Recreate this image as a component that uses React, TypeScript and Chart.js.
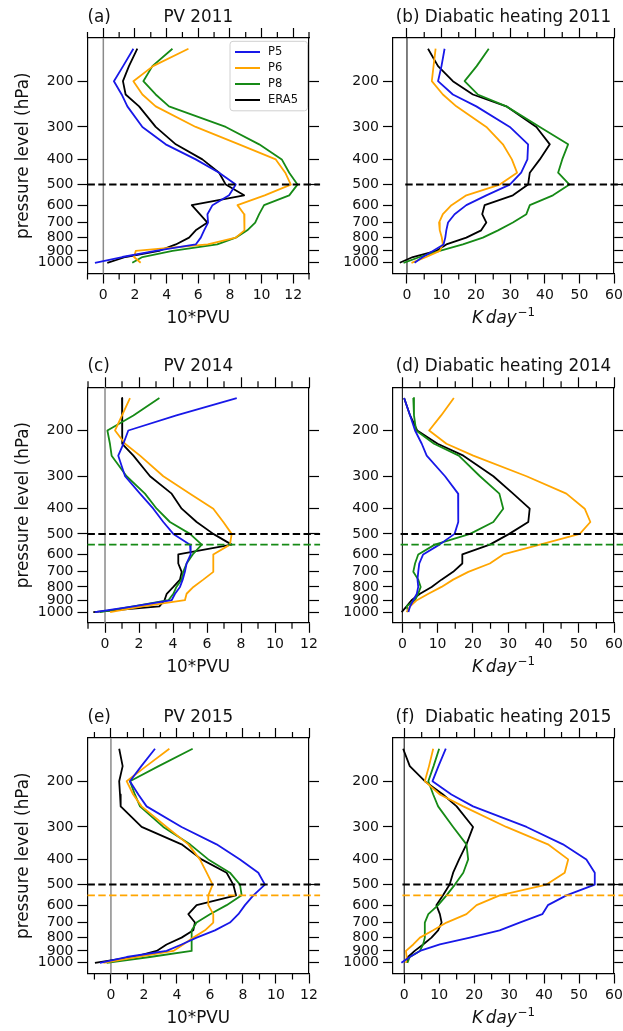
import React, { useEffect, useRef } from 'react';
import { Chart, registerables } from 'chart.js';

Chart.register(...registerables);
Chart.defaults.font.family = '"DejaVu Sans", sans-serif';

// ---------------- data ----------------
const LEVELS = [150, 175, 200, 225, 250, 300, 350, 400, 450, 500, 550, 600, 650, 700, 750, 800, 850, 900, 950, 1000];
const Y_TICKS = [200, 300, 400, 500, 600, 700, 800, 900, 1000];
const PV_TICKS = [0, 2, 4, 6, 8, 10, 12];
const PV_MINOR = [-1, 1, 3, 5, 7, 9, 11, 13];
const DH_TICKS = [0, 10, 20, 30, 40, 50, 60];
const DH_MINOR = [5, 15, 25, 35, 45, 55];
const SERIES_NAMES = ['P5', 'P6', 'P8', 'ERA5'];
const SERIES_COLORS = ['#1818e8', '#ffa500', '#168a16', '#000000'];
const HLINE_MAIN = 500;
const HLINE_SECOND = 550;

const PV2011_P5 = [1.9, 1.25, 0.67, 1.16, 1.52, 2.47, 3.94, 5.84, 7.32, 8.37, 7.95, 6.9, 6.58, 6.62, 6.37, 6.16, 5.84, 3.3, 1.2, -0.53];
const PV2011_P6 = [5.38, 3.14, 1.9, 2.47, 3.31, 5.84, 8.58, 10.9, 11.5, 11.85, 10.2, 8.48, 8.9, 8.94, 8.9, 8.37, 6.6, 2.05, 1.94, 2.36];
const PV2011_P8 = [4.37, 3.1, 2.53, 3.31, 4.15, 7.74, 9.85, 11.28, 11.75, 12.27, 11.75, 10.16, 9.85, 9.6, 9.1, 8.37, 7.2, 4.37, 2.47, 1.83];
const PV2011_ERA5 = [2.15, 1.62, 1.24, 1.41, 2.26, 3.31, 4.58, 6.26, 7.32, 7.74, 8.9, 5.59, 6.1, 6.58, 5.84, 5.42, 4.58, 3.52, 1.4, 0.25];

const DH2011_P5 = [10.9, 10.0, 9.0, 13.3, 20.1, 29.8, 35.1, 34.9, 33.1, 29.8, 23.0, 17.2, 13.8, 11.9, 11.4, 11.1, 10.6, 7.5, 4.6, 2.2];
const DH2011_P6 = [8.3, 7.7, 7.2, 10.4, 14.3, 23.0, 27.8, 30.4, 31.9, 26.9, 17.2, 12.9, 10.4, 9.3, 9.5, 10.1, 10.4, 9.5, 5.6, 1.3];
const DH2011_P8 = [23.7, 20.2, 16.7, 20.5, 28.8, 38.5, 46.7, 45.0, 43.8, 47.1, 42.3, 35.6, 34.6, 30.7, 26.4, 22.0, 16.2, 9.5, 3.7, -1.0];
const DH2011_ERA5 = [6.1, 9.0, 13.3, 19.1, 28.8, 37.5, 41.4, 38.5, 35.6, 35.1, 30.7, 22.5, 21.8, 23.0, 21.5, 17.2, 11.4, 8.5, 1.7, -2.1];

const PV2014_P5 = [7.75, 4.2, 1.37, 1.08, 0.78, 1.18, 2.06, 2.84, 3.43, 4.02, 5.0, 5.04, 4.8, 4.7, 4.57, 4.41, 4.12, 3.92, 1.67, -0.6];
const PV2014_P6 = [1.47, 1.0, 0.59, 1.18, 2.06, 3.43, 5.0, 6.37, 6.96, 7.45, 7.35, 6.37, 6.37, 6.37, 5.78, 5.2, 4.8, 4.7, 2.2, 0.3];
const PV2014_P8 = [3.2, 1.67, 0.14, 0.29, 0.39, 1.27, 2.35, 3.04, 3.82, 5.0, 5.69, 5.16, 4.8, 4.6, 4.5, 4.2, 4.02, 3.73, 1.67, -0.3];
const PV2014_ERA5 = [1.0, 1.0, 1.0, 1.04, 1.67, 2.65, 3.92, 4.51, 5.39, 6.37, 7.45, 4.31, 4.31, 4.51, 4.41, 4.02, 3.63, 3.5, 3.2, -0.69];

const DH2014_P5 = [0.5, 2.2, 3.6, 5.5, 6.9, 12.1, 15.8, 15.9, 15.8, 14.8, 10.5, 5.9, 4.8, 4.5, 4.3, 4.5, 4.1, 3.1, 2.2, 1.7];
const DH2014_P6 = [14.6, 11.0, 7.6, 12.5, 20.1, 35.2, 46.5, 51.7, 53.3, 50.3, 39.0, 28.6, 24.8, 18.7, 14.4, 11.1, 7.4, 4.1, 2.2, 1.2];
const DH2014_P8 = [3.1, 3.3, 3.9, 9.0, 16.0, 22.0, 27.5, 28.6, 25.8, 19.2, 9.2, 4.5, 3.6, 3.1, 4.5, 5.2, 4.5, 3.6, 1.2, 1.7];
const DH2014_ERA5 = [0.5, 2.2, 4.2, 10.0, 17.3, 25.8, 31.4, 36.1, 35.7, 30.3, 24.8, 17.0, 17.0, 14.4, 11.1, 8.3, 5.0, 2.6, 1.2, -0.2];

const PV2015_P5 = [2.67, 1.84, 1.15, 1.66, 2.16, 4.28, 6.4, 7.82, 8.93, 9.33, 8.63, 8.12, 7.72, 7.21, 6.3, 5.19, 4.28, 3.37, 0.95, -0.67];
const PV2015_P6 = [3.54, 2.14, 0.95, 1.35, 1.86, 3.37, 4.69, 5.39, 5.8, 6.16, 5.9, 5.9, 6.2, 6.2, 5.7, 4.99, 4.38, 3.78, 1.56, -0.46];
const PV2015_P8 = [4.95, 2.89, 1.15, 1.45, 1.76, 3.17, 4.79, 5.9, 7.21, 7.82, 7.92, 7.01, 6.0, 5.19, 4.89, 4.89, 4.89, 4.89, 2.36, -0.26];
const PV2015_ERA5 = [0.5, 0.71, 0.5, 0.55, 0.59, 1.86, 4.28, 5.49, 7.01, 7.41, 7.58, 5.19, 4.69, 5.09, 4.99, 4.28, 3.37, 2.77, 1.35, -0.97];

const DH2015_P5 = [11.9, 9.8, 8.1, 13.5, 19.7, 35.0, 45.4, 52.1, 54.5, 54.5, 46.4, 41.1, 39.5, 33.0, 27.3, 18.8, 10.2, 4.5, 1.6, -0.8];
const DH2015_P6 = [8.3, 7.1, 5.9, 10.2, 16.9, 29.2, 41.1, 46.9, 45.9, 40.7, 27.3, 20.7, 17.8, 12.1, 8.3, 4.5, 2.6, 0.5, 0.7, 0.5];
const DH2015_P8 = [10.0, 8.4, 6.9, 8.3, 9.7, 14.0, 17.8, 18.3, 16.9, 14.5, 12.1, 9.7, 6.9, 5.9, 5.9, 5.9, 5.4, 4.5, 1.6, 0.9];
const DH2015_ERA5 = [-0.3, 1.6, 5.9, 11.1, 15.0, 19.7, 17.8, 15.7, 14.0, 13.0, 11.1, 9.2, 10.2, 10.7, 9.7, 7.8, 5.4, 3.0, 1.1, 0.7];

// ---------------- layout ----------------
const Y_MIN = 136.4;
const Y_MAX = 1099.5;
const COLS = [
  { cx: 0, cw: 330, L: 87.5, R: 309 },
  { cx: 330, cw: 293, L: 393, R: 614 },
];
const ROWS = [
  { cy: 0, ch: 340, T: 38, B: 273.5 },
  { cy: 340, ch: 345, T: 387.3, B: 622.8 },
  { cy: 685, ch: 346, T: 738, B: 973.5 },
];
const TEXT = '#111111';
const TITLE_FONT = '16.8px "DejaVu Sans"';

type HL = { value: number; color: string; width: number; start: number | null };

const PANELS = [
  { row: 0, col: 0, kind: 'pv', letter: '(a)', title: 'PV 2011', xmin: -1, xmax: 13, legend: true,
    series: [PV2011_P5, PV2011_P6, PV2011_P8, PV2011_ERA5], second: null },
  { row: 0, col: 1, kind: 'dh', letter: '', title: '(b) Diabatic heating 2011', xmin: -4.05, xmax: 60, legend: false,
    series: [DH2011_P5, DH2011_P6, DH2011_P8, DH2011_ERA5], second: null },
  { row: 1, col: 0, kind: 'pv', letter: '(c)', title: 'PV 2014', xmin: -1.03, xmax: 12, legend: false,
    series: [PV2014_P5, PV2014_P6, PV2014_P8, PV2014_ERA5], second: SERIES_COLORS[2] },
  { row: 1, col: 1, kind: 'dh', letter: '', title: '(d) Diabatic heating 2014', xmin: -2.65, xmax: 60, legend: false,
    series: [DH2014_P5, DH2014_P6, DH2014_P8, DH2014_ERA5], second: SERIES_COLORS[2] },
  { row: 2, col: 0, kind: 'pv', letter: '(e)', title: 'PV 2015', xmin: -1.42, xmax: 12, legend: false,
    series: [PV2015_P5, PV2015_P6, PV2015_P8, PV2015_ERA5], second: SERIES_COLORS[1] },
  { row: 2, col: 1, kind: 'dh', letter: '', title: '(f)  Diabatic heating 2015', xmin: -3.2, xmax: 60, legend: false,
    series: [DH2015_P5, DH2015_P6, DH2015_P8, DH2015_ERA5], second: SERIES_COLORS[1] },
];

const decorPlugin = {
  id: 'decor',
  beforeDatasetsDraw(chart: any, _a: any, o: any) {
    const { ctx, chartArea: a, scales } = chart;
    const x0 = scales.x.getPixelForValue(0);
    ctx.save();
    ctx.strokeStyle = o.zeroColor;
    ctx.lineWidth = o.zeroWidth;
    ctx.beginPath();
    ctx.moveTo(x0, a.top);
    ctx.lineTo(x0, a.bottom);
    ctx.stroke();
    ctx.restore();
  },
  afterDatasetsDraw(chart: any, _a: any, o: any) {
    const { ctx, chartArea: a, scales } = chart;
    ctx.save();
    const hl: HL[] = o.hlines;
    for (let i = hl.length - 1; i >= 0; i--) {
      const h = hl[i];
      const y = scales.y.getPixelForValue(h.value);
      const xs = h.start === null ? a.left : scales.x.getPixelForValue(h.start);
      const xe = a.left + 1.05 * (a.right - a.left);
      ctx.strokeStyle = h.color;
      ctx.lineWidth = h.width;
      ctx.setLineDash([7.4, 3.4]);
      ctx.beginPath();
      ctx.moveTo(xs, y);
      ctx.lineTo(xe, y);
      ctx.stroke();
    }
    ctx.restore();
  },
  afterDraw(chart: any, _a: any, o: any) {
    const { ctx, chartArea: a, scales } = chart;
    const xs = scales.x;
    ctx.save();
    // minor ticks
    ctx.strokeStyle = '#000';
    ctx.lineWidth = 1.2;
    for (const v of o.minor as number[]) {
      if (v < xs.min - 1e-9 || v > xs.max + 1e-9) continue;
      const px = xs.getPixelForValue(v);
      ctx.beginPath();
      ctx.moveTo(px, a.bottom);
      ctx.lineTo(px, a.bottom + 6);
      ctx.moveTo(px, a.top);
      ctx.lineTo(px, a.top - 6);
      ctx.stroke();
    }
    const cxm = (a.left + a.right) / 2;
    ctx.fillStyle = TEXT;
    // titles
    ctx.font = TITLE_FONT;
    ctx.textBaseline = 'alphabetic';
    if (o.letter) {
      ctx.textAlign = 'left';
      ctx.fillText(o.letter, a.left, a.top - 16.5);
    }
    ctx.textAlign = 'center';
    ctx.fillText(o.title, cxm, a.top - 16.5);
    // x label
    const yb = a.bottom + 49.5;
    if (o.kind === 'pv') {
      ctx.fillText('10*PVU', cxm, yb);
    } else {
      const fs = 16.8;
      const fItal = `italic ${fs}px "DejaVu Sans"`;
      const fSup = `${(fs * 0.7).toFixed(1)}px "DejaVu Sans"`;
      ctx.font = fItal;
      const wK = ctx.measureText('K').width;
      const wSp = fs * 0.17;
      const wDay = ctx.measureText('day').width;
      ctx.font = fSup;
      const wSup = ctx.measureText('\u22121').width;
      const total = wK + wSp + wDay + wSup + 1;
      let x = cxm - total / 2;
      ctx.textAlign = 'left';
      ctx.font = fItal;
      ctx.fillText('K', x, yb);
      x += wK + wSp;
      ctx.fillText('day', x, yb);
      x += wDay + 1;
      ctx.font = fSup;
      ctx.fillText('\u22121', x, yb - fs * 0.42);
    }
    // y label
    if (o.yTitle) {
      ctx.font = TITLE_FONT;
      ctx.textAlign = 'center';
      ctx.save();
      ctx.translate(a.left - 59.5, (a.top + a.bottom) / 2);
      ctx.rotate(-Math.PI / 2);
      ctx.fillText('pressure level (hPa)', 0, 0);
      ctx.restore();
    }
    // legend
    if (o.legend) {
      const bx = a.right - 79;
      const by = a.top + 3.3;
      const bw = 77.5;
      const bh = 69.5;
      ctx.fillStyle = 'rgba(255,255,255,0.85)';
      ctx.strokeStyle = '#d0d0d0';
      ctx.lineWidth = 1;
      ctx.beginPath();
      if ((ctx as any).roundRect) (ctx as any).roundRect(bx, by, bw, bh, 3);
      else ctx.rect(bx, by, bw, bh);
      ctx.fill();
      ctx.stroke();
      ctx.font = '11.5px "DejaVu Sans"';
      ctx.textAlign = 'left';
      ctx.textBaseline = 'middle';
      chart.data.datasets.forEach((ds: any, i: number) => {
        const ry = by + 10.7 + i * 16;
        ctx.strokeStyle = ds.borderColor;
        ctx.lineWidth = 2;
        ctx.beginPath();
        ctx.moveTo(bx + 5, ry);
        ctx.lineTo(bx + 30, ry);
        ctx.stroke();
        ctx.fillStyle = TEXT;
        ctx.fillText(ds.label, bx + 38, ry + 0.5);
      });
    }
    ctx.restore();
  },
};

function Panel({ p }: { p: (typeof PANELS)[number] }) {
  const ref = useRef<HTMLCanvasElement>(null);
  const col = COLS[p.col];
  const row = ROWS[p.row];
  useEffect(() => {
    if (!ref.current) return;
    const leftW = col.L - col.cx;
    const rightW = col.cx + col.cw - col.R;
    const topH = row.T - row.cy;
    const botH = row.cy + row.ch - row.B;
    const majors = p.kind === 'pv' ? PV_TICKS : DH_TICKS;
    const tickFont = { family: '"DejaVu Sans"', size: 14 };
    const gridOpts = {
      drawOnChartArea: false,
      drawTicks: true,
      tickLength: 10,
      tickWidth: 1.2,
      tickColor: '#000',
      color: '#000',
    };
    const border = { display: true, color: '#000', width: 1.2 };
    const xAxis = (position: string, show: boolean, h: number) => ({
      type: 'linear',
      position,
      bounds: 'data',
      min: p.xmin,
      max: p.xmax,
      afterBuildTicks: (s: any) => {
        s.ticks = majors.map((v) => ({ value: v }));
      },
      afterFit: (s: any) => {
        s.height = h;
        s.paddingLeft = 0;
        s.paddingRight = 0;
      },
      grid: gridOpts,
      border,
      ticks: {
        display: show,
        color: TEXT,
        font: tickFont,
        padding: 3,
        maxRotation: 0,
        autoSkip: false,
        callback: (v: any) => String(v),
      },
    });
    const yAxis = (position: string, show: boolean, w: number) => ({
      type: 'logarithmic',
      position,
      reverse: true,
      bounds: 'data',
      min: Y_MIN,
      max: Y_MAX,
      afterBuildTicks: (s: any) => {
        s.ticks = Y_TICKS.map((v) => ({ value: v }));
      },
      afterFit: (s: any) => {
        s.width = w;
        s.paddingTop = 0;
        s.paddingBottom = 0;
      },
      grid: gridOpts,
      border,
      ticks: {
        display: show,
        color: TEXT,
        font: tickFont,
        padding: 4,
        autoSkip: false,
        callback: (v: any) => String(v),
      },
    });
    const hlines: HL[] = [
      { value: HLINE_MAIN, color: '#000', width: 2, start: p.kind === 'pv' ? null : -0.5 },
    ];
    if (p.second) hlines.push({ value: HLINE_SECOND, color: p.second, width: 1.6, start: p.kind === 'pv' ? null : -0.5 });

    const chart = new Chart(ref.current, {
      type: 'line',
      data: {
        datasets: p.series.map((vals, i) => ({
          label: SERIES_NAMES[i],
          data: vals.map((v, k) => ({ x: v, y: LEVELS[k] })),
          borderColor: SERIES_COLORS[i],
          backgroundColor: SERIES_COLORS[i],
          borderWidth: 1.8,
          pointRadius: 0,
          tension: 0,
          fill: false,
          borderJoinStyle: 'round',
          xAxisID: 'x',
          yAxisID: 'y',
        })),
      },
      options: {
        animation: false,
        responsive: false,
        maintainAspectRatio: false,
        layout: { padding: 0 },
        events: [],
        plugins: {
          legend: { display: false },
          title: { display: false },
          tooltip: { enabled: false },
          decor: {
            kind: p.kind,
            letter: p.letter,
            title: p.title,
            legend: p.legend,
            yTitle: p.col === 0,
            minor: p.kind === 'pv' ? PV_MINOR : DH_MINOR,
            zeroColor: p.kind === 'pv' ? '#8a8a8a' : '#000',
            zeroWidth: p.kind === 'pv' ? 1.5 : 1,
            hlines,
          },
        },
        scales: {
          x: xAxis('bottom', true, botH),
          x2: xAxis('top', false, topH),
          y: yAxis('left', true, leftW),
          y2: yAxis('right', false, rightW),
        },
      } as any,
      plugins: [decorPlugin as any],
    } as any);
    return () => chart.destroy();
  }, []);
  return (
    <canvas
      ref={ref}
      width={col.cw}
      height={row.ch}
      style={{ position: 'absolute', left: col.cx, top: row.cy, width: col.cw, height: row.ch }}
    />
  );
}

export default function App() {
  return (
    <div style={{ position: 'absolute', left: 0, top: 0, width: 623, height: 1031, background: '#fff', overflow: 'hidden' }}>
      {PANELS.map((p, i) => (
        <Panel key={i} p={p} />
      ))}
    </div>
  );
}
